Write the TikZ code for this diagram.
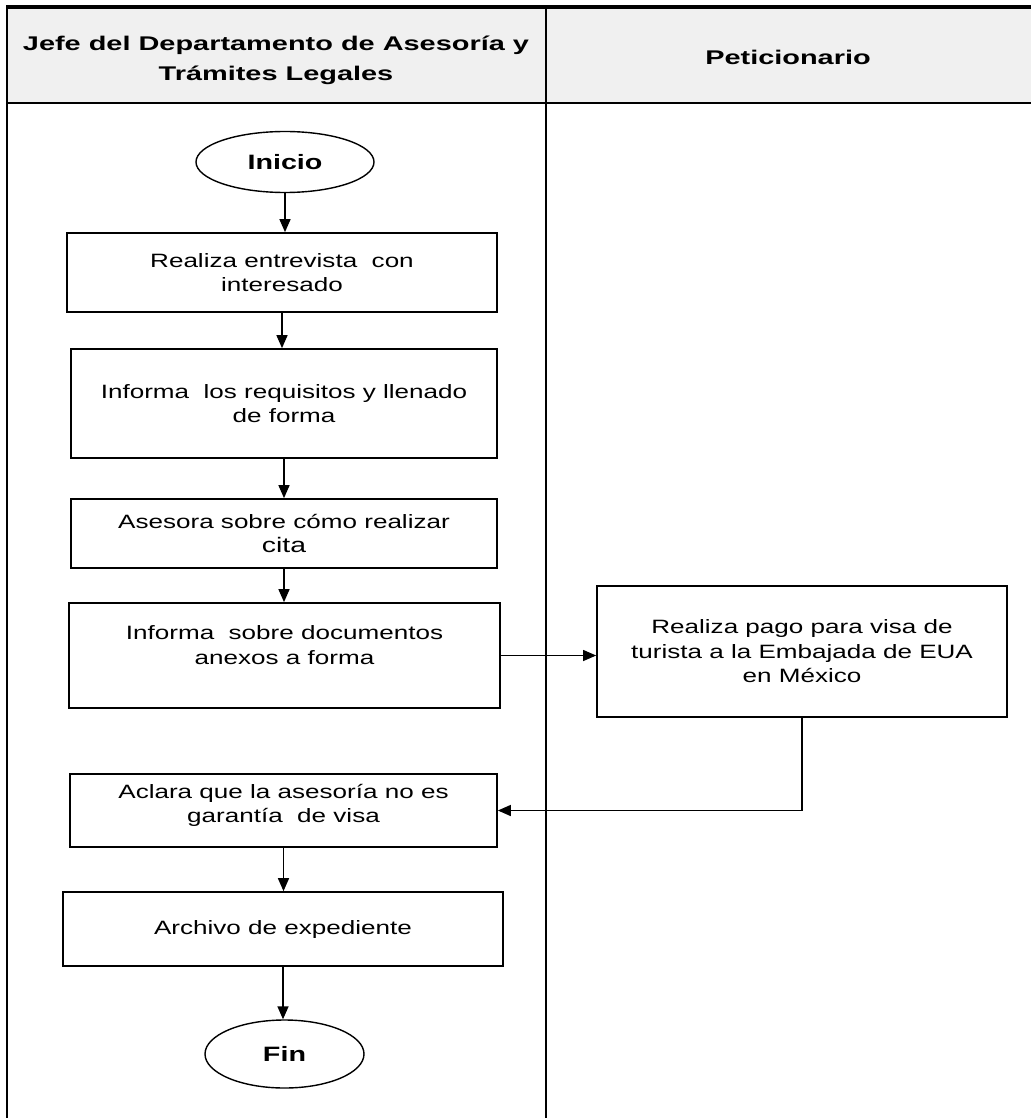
\documentclass[tikz,border=0pt]{standalone}
\usepackage{fontspec}
\setmainfont{Liberation Sans}
\newfontfamily\bodyfont[FakeStretch=1.35]{Liberation Sans}
\newfontfamily\headfont[FakeStretch=1.46]{Liberation Sans}
\newfontfamily\termfont[FakeStretch=1.38]{Liberation Sans}
\usetikzlibrary{shapes.geometric,arrows.meta,calc}
\definecolor{headgray}{HTML}{F0F0F0}
\tikzset{
  procbox/.style={draw=black, line width=1.7pt, fill=white, align=center, inner sep=2pt,
    font=\bodyfont\fontsize{19.3}{24.5}\selectfont},
  termnode/.style={draw=black, ellipse, line width=1.4pt, fill=white,
    font=\termfont\bfseries\fontsize{20.8}{24}\selectfont, inner sep=0pt},
  flow/.style={line width=1.5pt, -{Triangle[length=13pt,width=11pt]}},
  thinflow/.style={line width=1.1pt, -{Triangle[length=13pt,width=11pt]}},
  lane/.style={line width=2.8pt},
  headtext/.style={font=\headfont\bfseries\fontsize{19.8}{30}\selectfont, align=center}
}
\begin{document}
\begin{tikzpicture}[x=1pt,y=-1pt]
\useasboundingbox (0,0) rectangle (1031,1118);
% header
\fill[headgray] (7,7) rectangle (1031,103);
\draw[line width=3.5pt] (7,7) -- (1031,7);
\draw[lane] (7,103) -- (1031,103);
\draw[lane] (7,5.5) -- (7,1118);
\draw[lane] (546,5.5) -- (546,1118);
\node[headtext] (h1) at (276,60) {Jefe del Departamento de Asesoría y\\Trámites Legales};
\node[headtext] (h2) at (788,57) {Peticionario};
% nodes
\node[termnode, minimum width=178pt, minimum height=61pt] (ini) at (285,162) {Inicio};
\node[procbox, minimum width=430pt, minimum height=79pt] (b1) at (282,272.5) {Realiza entrevista\ \ con\\interesado};
\node[procbox, minimum width=426pt, minimum height=109pt] (b2) at (284,403.5) {Informa\ \ los requisitos y llenado\\de forma};
\node[procbox, minimum width=426pt, minimum height=69pt] (b3) at (284,533.5) {Asesora sobre cómo realizar\\{\fontsize{21}{24}\selectfont cita}};
\node[procbox, minimum width=431pt, minimum height=105pt] (b4) at (284.5,655.5) {Informa\ \ sobre documentos\\anexos a forma\\[-4pt]};
\node[procbox, minimum width=410pt, minimum height=131pt] (b5) at (802,651.5) {Realiza pago para visa de\\turista a la Embajada de EUA\\en México};
\node[procbox, minimum width=427pt, minimum height=73pt] (b6) at (283.5,810.5) {Aclara que la asesoría no es\\garantía\ \ de visa\\[-10pt]};
\node[procbox, minimum width=440pt, minimum height=74pt] (b7) at (283,929) {Archivo de expediente};
\node[termnode, minimum width=159pt, minimum height=68pt] (fin) at (284.5,1054) {Fin};
% connectors
\draw[flow] (ini.south) -- (ini.south |- b1.north);
\draw[flow] (b1.south) -- (b1.south |- b2.north);
\draw[flow] (b2.south) -- (b2.south |- b3.north);
\draw[flow] (b3.south) -- (b3.south |- b4.north);
\draw[thinflow] (b4.east) -- (b4.east -| b5.west);
\draw[flow] (b5.south) |- (b6.east);
\draw[flow] (b6.south) -- (b6.south |- b7.north);
\draw[flow] (b7.south) -- (b7.south |- fin.north);
\end{tikzpicture}
\end{document}
